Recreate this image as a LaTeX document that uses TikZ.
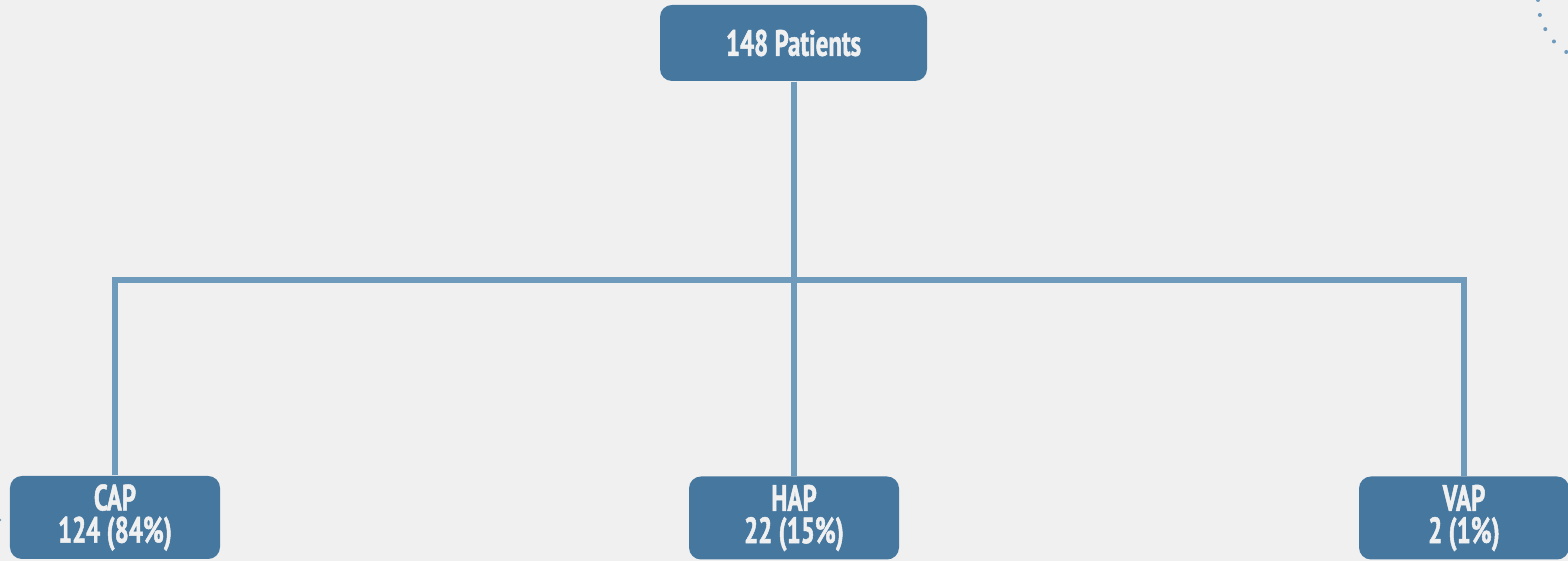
\documentclass[tikz,border=0pt]{standalone}
\usepackage{fontspec}
\setmainfont{PT Sans}[FakeStretch=0.68,BoldFeatures={FakeBold=1.3}]
\usetikzlibrary{positioning}

\definecolor{bgback}{HTML}{F0F0F0}
\definecolor{boxblue}{HTML}{46789F}
\definecolor{linkblue}{HTML}{6E9ABB}

\begin{document}
\begin{tikzpicture}[every node/.style={rectangle,rounded corners=3.4pt,fill=boxblue,
                                       text=bgback,font=\bfseries\fontsize{10.4}{9.2}\selectfont,
                                       align=center,inner sep=0pt},
                    link/.style={draw=linkblue,line width=1.45pt},
                    linkshadow/.style={draw=black!25,line width=1.45pt,opacity=.6}]

\useasboundingbox (0,0) rectangle (15.68,-5.61);
\fill[bgback] (0,0) rectangle (15.68,-5.61);
\clip (0,0) rectangle (15.68,-5.61);

% top box and the three groups
\node[minimum width=2.67cm,minimum height=0.76cm] (pat) at (7.935,-0.43) {148 Patients};
\node[minimum width=2.10cm,minimum height=0.83cm] (cap) at (1.15,-5.175) {CAP\\[0pt]124 (84\%)};
\node[minimum width=2.10cm,minimum height=0.83cm] (hap) at (7.94,-5.18) {HAP\\[0pt]22 (15\%)};
\node[minimum width=2.10cm,minimum height=0.83cm] (vap) at (14.64,-5.18) {VAP\\[0pt]2 (1\%)};

\coordinate (bus) at (7.94,-2.80);

% connectors, shadow first
\begin{scope}[shift={(0.012,-0.018)}]
\draw[linkshadow] (pat.south -| bus) -- (bus);
\draw[linkshadow] (cap.north) -- (cap.north |- bus) -- (vap.north |- bus) -- (vap.north);
\draw[linkshadow] (bus) -- (hap.north);
\end{scope}
\draw[link] (pat.south -| bus) -- (bus);
\draw[link] (cap.north) -- (cap.north |- bus) -- (vap.north |- bus) -- (vap.north);
\draw[link] (bus) -- (hap.north);

% dotted ornaments at the edges
\foreach \a in {166,180,194,208,222,237,252}
  \fill[linkblue] (16.0,0) ++(\a:0.62) circle (0.02);
\fill[linkblue] (0.0,-5.2) circle (0.014);

\end{tikzpicture}
\end{document}
